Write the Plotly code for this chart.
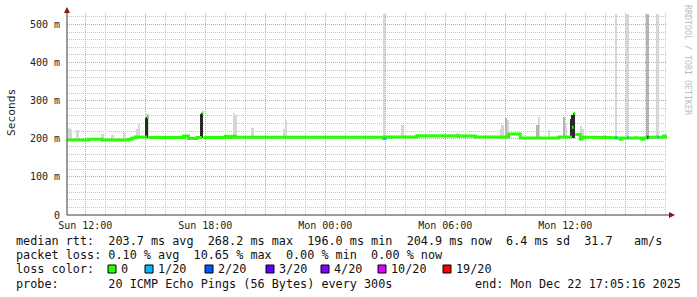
import plotly.graph_objects as go
import pandas as pd

# ---------------- data ----------------
DAY = {"Sun": "2025-12-21", "Mon": "2025-12-22"}

start_time = "Sun 11:05:16"
end_time = "Mon 17:05:16"

# median rtt (ms) as step changes: value holds from this time until the next one
med_t = ["Sun 11:05", "Sun 12:10", "Sun 12:50", "Sun 14:10", "Sun 14:20", "Sun 14:30",
         "Sun 15:05", "Sun 15:10", "Sun 16:55", "Sun 17:10", "Sun 17:35", "Sun 17:50",
         "Sun 17:55", "Sun 19:00", "Sun 19:10", "Sun 19:20", "Sun 19:30",
         "Mon 02:55", "Mon 03:00", "Mon 04:35", "Mon 05:05", "Mon 07:30", "Mon 09:10",
         "Mon 09:45", "Mon 11:40", "Mon 12:20", "Mon 12:25", "Mon 12:30", "Mon 12:45",
         "Mon 12:50", "Mon 14:30", "Mon 14:35", "Mon 14:45", "Mon 14:50", "Mon 15:05",
         "Mon 15:10", "Mon 15:50", "Mon 15:55", "Mon 16:05", "Mon 16:10", "Mon 16:35",
         "Mon 16:40", "Mon 16:55", "Mon 17:00"]
med_v = [196.5, 198.5, 196.5, 198.5, 202.0, 204.5,
         257.0, 203.5, 207.0, 200.5, 203.5, 268.2,
         203.5, 206.5, 203.5, 206.5, 204.0,
         200.5, 204.5, 208.0, 207.0, 204.5, 212.5,
         202.0, 204.5, 230.0, 267.0, 211.0, 199.5,
         204.5, 203.0, 202.0, 199.0, 202.0, 203.0,
         202.0, 199.0, 202.0, 204.0, 204.5, 204.5,
         204.5, 207.0, 204.9]

# samples with packet loss (number of lost pings out of 20)
loss_t = ["Mon 02:55", "Mon 14:30", "Mon 15:05", "Mon 16:05", "Mon 16:35"]
loss_n = [1, 1, 1, 3, 1]

# smoke (ping spread), grouped by density
light_t = ["Sun 11:10", "Sun 11:15", "Sun 11:35", "Sun 12:50", "Sun 13:20", "Sun 13:55",
           "Sun 14:35", "Sun 14:40", "Sun 15:00", "Sun 15:05", "Sun 19:25", "Sun 19:30",
           "Sun 20:20", "Sun 21:10", "Sun 21:55", "Sun 22:00", "Mon 02:55", "Mon 03:50",
           "Mon 06:35", "Mon 06:40", "Mon 08:45", "Mon 08:50", "Mon 09:05", "Mon 10:40",
           "Mon 11:10", "Mon 12:00", "Mon 12:45", "Mon 12:50", "Mon 13:55", "Mon 14:30",
           "Mon 15:05", "Mon 16:35"]
light_hi = [228, 225, 222, 212, 209, 217,
            225, 240, 267, 265, 268, 262,
            228, 208, 225, 248, 527, 236,
            214, 213, 225, 235, 248, 257,
            223, 240, 233, 225, 209, 527,
            527, 527]
mid_t = ["Mon 06:55", "Mon 09:00", "Mon 10:35", "Mon 11:55", "Mon 15:30", "Mon 16:05"]
mid_hi = [211, 255, 235, 256, 207, 527]
dark_t = ["Sun 15:00", "Sun 15:05", "Sun 17:45", "Sun 17:50", "Mon 12:15", "Mon 12:20", "Mon 12:25"]
dark_hi = [255, 258, 266, 268, 252, 262, 268]
smoke_floor = 202

y_ticks = [0, 100, 200, 300, 400, 500]
y_labels = ["0", "100 m", "200 m", "300 m", "400 m", "500 m"]
x_ticks = ["Sun 12:00", "Sun 15:00", "Sun 18:00", "Sun 21:00", "Mon 00:00",
           "Mon 03:00", "Mon 06:00", "Mon 09:00", "Mon 12:00", "Mon 15:00"]
x_labels = ["Sun 12:00", "", "Sun 18:00", "", "Mon 00:00", "", "Mon 06:00", "", "Mon 12:00", ""]

stats_lines = [
    "median rtt:  203.7 ms avg  268.2 ms max  196.0 ms min  204.9 ms now  6.4 ms sd  31.7   am/s",
    "packet loss: 0.10 % avg  10.65 % max  0.00 % min  0.00 % now",
    "loss color:",
    "probe:       20 ICMP Echo Pings (56 Bytes) every 300s",
]
end_text = "end: Mon Dec 22 17:05:16 2025"
loss_labels = ["0", "1/20", "2/20", "3/20", "4/20", "10/20", "19/20"]
loss_levels = [0, 1, 2, 3, 4, 10, 19]
loss_colors = ["#26ff00", "#00b8ff", "#0059ff", "#5e00ff", "#7e00ff", "#dd00ff", "#ff0000"]

# ---------------- helpers ----------------
def ts(s):
    d, t = s.split()
    return pd.Timestamp(f"{DAY[d]} {t}")

FIVE = pd.Timedelta(minutes=5)
t_start, t_end = ts(start_time), ts(end_time)

# plot-area geometry (pixels)
W, H = 697, 297
L, R, T, B = 67, 667, 13, 215
def px(x):
    return (x - L) / (R - L)
def py(y):
    return (B - y) / (B - T)

# ---------------- figure ----------------
fig = go.Figure()

def smoke(times, his, color, width_min):
    fig.add_trace(go.Bar(
        x=[ts(t) for t in times], y=[h - smoke_floor for h in his], base=smoke_floor,
        width=width_min * 60000, offset=0, marker=dict(color=color, line=dict(width=0)),
        hoverinfo="skip", showlegend=False))

smoke(light_t, light_hi, "#d6d6d6", 5)
smoke(mid_t, mid_hi, "#b4b4b4", 5)
smoke(dark_t, dark_hi, "#2a2a2a", 4)

# median line as horizontal steps; big jumps are not joined (drawn by smoke)
mx, my = [], []
for i, (t, v) in enumerate(zip(med_t, med_v)):
    t0 = ts(t)
    t1 = ts(med_t[i + 1]) if i + 1 < len(med_t) else t_end
    if i > 0 and abs(v - med_v[i - 1]) > 15:
        mx.append(None); my.append(None)
    mx += [t0, t1]; my += [v, v]
fig.add_trace(go.Scatter(x=mx, y=my, mode="lines", line=dict(color="#26ff00", width=3),
                         hoverinfo="skip", showlegend=False))

# loss coloured samples
def med_at(t):
    tt = ts(t)
    val = med_v[0]
    for a, v in zip(med_t, med_v):
        if ts(a) <= tt:
            val = v
    return val

for t, n in zip(loss_t, loss_n):
    col = loss_colors[max(i for i, lv in enumerate(loss_levels) if lv <= n)]
    fig.add_trace(go.Scatter(x=[ts(t), ts(t) + FIVE], y=[med_at(t)] * 2, mode="lines",
                             line=dict(color=col, width=3), hoverinfo="skip", showlegend=False))

mono = "DejaVu Sans Mono"
grid_minor = "#c6c6c6"
grid_major = "#ec9898"

fig.update_layout(
    width=W, height=H, autosize=False,
    margin=dict(l=L, r=W - R, t=T, b=H - B, pad=0),
    paper_bgcolor="white", plot_bgcolor="white",
    barmode="overlay", bargap=0,
    font=dict(family=mono, size=10, color="#222"),
    xaxis=dict(
        type="date", range=[t_start, t_end],
        tickvals=[ts(t) for t in x_ticks], ticktext=x_labels,
        showgrid=True, gridcolor=grid_major, griddash="1px,1px", gridwidth=1,
        minor=dict(dtick=3600000, tick0=ts("Sun 12:00"), showgrid=True,
                   gridcolor=grid_minor, griddash="1px,1px", gridwidth=1),
        showline=False, zeroline=False, ticks="", ticklabelstandoff=3,
        tickfont=dict(family=mono, size=10, color="#222"),
        fixedrange=True,
    ),
    yaxis=dict(
        range=[0, 530], tickvals=y_ticks, ticktext=y_labels,
        showgrid=True, gridcolor=grid_major, griddash="1px,1px", gridwidth=1,
        minor=dict(dtick=20, tick0=0, showgrid=True, gridcolor=grid_minor,
                   griddash="1px,1px", gridwidth=1),
        showline=False, zeroline=False, ticks="", ticklabelstandoff=6,
        tickfont=dict(family=mono, size=10, color="#222"),
        fixedrange=True,
    ),
)

axis_col = "#3a3a3a"
arrow_col = "#8a1414"
shapes = [
    dict(type="line", xref="paper", yref="paper", x0=0, x1=0, y0=0, y1=py(9),
         line=dict(color=axis_col, width=1)),
    dict(type="line", xref="paper", yref="paper", x0=0, x1=px(671), y0=0, y1=0,
         line=dict(color=axis_col, width=1)),
    dict(type="path", xref="paper", yref="paper",
         path=f"M {px(64)} {py(13)} L {px(70)} {py(13)} L {px(67)} {py(7)} Z",
         fillcolor=arrow_col, line=dict(width=0)),
    dict(type="path", xref="paper", yref="paper",
         path=f"M {px(669)} {py(212)} L {px(669)} {py(218)} L {px(675)} {py(215)} Z",
         fillcolor=arrow_col, line=dict(width=0)),
]

ann = []
def text(x, y, s, size=11.8, color="#111", anchor="left", angle=0):
    ann.append(dict(x=px(x), y=py(y), xref="paper", yref="paper", text=s.replace(" ", "\u00a0"),
                    showarrow=False, xanchor=anchor, yanchor="middle", textangle=angle,
                    font=dict(family=mono, size=size, color=color), borderpad=0))

line_y = [241, 255, 269, 284]
for s, yy in zip(stats_lines, line_y):
    text(15, yy, s)
text(682, 284, end_text, anchor="right")

box_x = [108, 145, 205, 266, 321, 378, 443]
for bx, lab, col in zip(box_x, loss_labels, loss_colors):
    shapes.append(dict(type="rect", xref="paper", yref="paper",
                       x0=px(bx), x1=px(bx + 8), y0=py(273), y1=py(265),
                       fillcolor=col, line=dict(color="#000", width=1)))
    text(bx + 12, 269, lab)

text(11, 113, "Seconds", size=11.2, color="#222", anchor="center", angle=-90)
text(688, 60, "RRDTOOL / TOBI OETIKER", size=8.3, color="#bdbdbd", anchor="center", angle=90)

fig.update_layout(shapes=shapes, annotations=ann)
fig.write_html("out.html")
